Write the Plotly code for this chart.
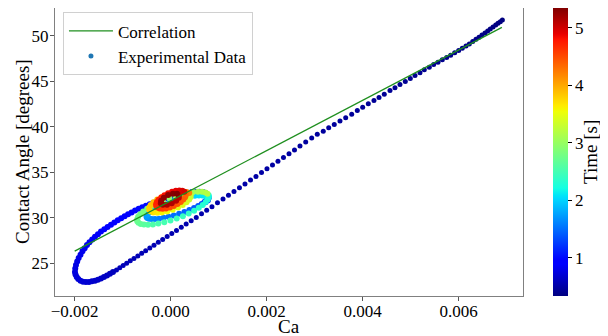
import plotly.graph_objects as go

# ---------------- data ----------------
# Fast approach branch (top-right -> bottom-left), earliest times
ca_approach = [
    0.006910, 0.006867, 0.006819, 0.006771, 0.006715, 0.006658, 0.006604, 0.006548, 0.006485, 0.006423,
    0.006360, 0.006292, 0.006221, 0.006152, 0.006075, 0.006000, 0.005917, 0.005833, 0.005750, 0.005659,
    0.005569, 0.005479, 0.005388, 0.005284, 0.005194, 0.005090, 0.004992, 0.004888, 0.004777, 0.004673,
    0.004569, 0.004450, 0.004340, 0.004235, 0.004117, 0.004000, 0.003888, 0.003771, 0.003646, 0.003527,
    0.003408, 0.003292, 0.003179, 0.003054, 0.002938, 0.002813, 0.002694, 0.002579, 0.002465, 0.002350,
    0.002235, 0.002121, 0.002006, 0.001892, 0.001777, 0.001663, 0.001548, 0.001433, 0.001319, 0.001204,
    0.001090, 0.000975, 0.000860, 0.000750, 0.000642, 0.000533, 0.000427, 0.000323, 0.000221, 0.000121,
    0.000023, -0.000073, -0.000167, -0.000258, -0.000348, -0.000435, -0.000521, -0.000604, -0.000685, -0.000765,
    -0.000842, -0.000917, -0.000990, -0.001060, -0.001129,
]
theta_approach = [
    51.75, 51.57, 51.38, 51.21, 50.99, 50.77, 50.55, 50.33, 50.11, 49.85,
    49.63, 49.38, 49.12, 48.90, 48.64, 48.39, 48.14, 47.87, 47.62, 47.37,
    47.11, 46.85, 46.56, 46.27, 45.94, 45.65, 45.32, 44.99, 44.66, 44.30,
    44.00, 43.60, 43.23, 42.91, 42.54, 42.17, 41.81, 41.40, 41.01, 40.64,
    40.27, 39.91, 39.51, 39.18, 38.77, 38.33, 37.89, 37.47, 37.06, 36.64,
    36.22, 35.81, 35.39, 34.98, 34.56, 34.15, 33.73, 33.31, 32.90, 32.48,
    32.07, 31.65, 31.23, 30.83, 30.44, 30.05, 29.68, 29.32, 28.97, 28.62,
    28.28, 27.95, 27.62, 27.31, 26.99, 26.69, 26.39, 26.10, 25.82, 25.54,
    25.28, 25.02, 24.76, 24.52, 24.28,
]
time_approach = [
    0.340, 0.343, 0.346, 0.349, 0.352, 0.355, 0.358, 0.361, 0.364, 0.367,
    0.370, 0.373, 0.376, 0.379, 0.382, 0.385, 0.388, 0.391, 0.394, 0.397,
    0.400, 0.403, 0.406, 0.409, 0.412, 0.415, 0.418, 0.421, 0.424, 0.427,
    0.430, 0.433, 0.436, 0.439, 0.442, 0.445, 0.448, 0.451, 0.454, 0.457,
    0.460, 0.463, 0.466, 0.469, 0.472, 0.475, 0.478, 0.481, 0.484, 0.487,
    0.490, 0.493, 0.496, 0.499, 0.502, 0.505, 0.508, 0.511, 0.514, 0.517,
    0.520, 0.523, 0.526, 0.529, 0.532, 0.535, 0.538, 0.541, 0.544, 0.547,
    0.550, 0.553, 0.556, 0.559, 0.562, 0.565, 0.568, 0.571, 0.574, 0.577,
    0.580, 0.583, 0.586, 0.589, 0.592,
]

# First (blue) loop: rounded bottom-left end and the upper branch
ca_loop1 = [
    -0.001202, -0.001265, -0.001327, -0.001390, -0.001452, -0.001515, -0.001577, -0.001640, -0.001702, -0.001765,
    -0.001827, -0.001879, -0.001925, -0.001958, -0.001983, -0.001994, -0.001988, -0.001973, -0.001948, -0.001917,
    -0.001879, -0.001838, -0.001792, -0.001744, -0.001692, -0.001635, -0.001577, -0.001515, -0.001452, -0.001383,
    -0.001315, -0.001244, -0.001173, -0.001102, -0.001031, -0.000960, -0.000888, -0.000815, -0.000742, -0.000667,
    -0.000592, -0.000515, -0.000438, -0.000360, -0.000283, -0.000204, -0.000125, -0.000046, 0.000033, 0.000115,
    0.000196, 0.000277, 0.000358, 0.000440, 0.000521, 0.000600, 0.000673, 0.000735, 0.000777, 0.000794,
    0.000777, 0.000725,
]
theta_loop1 = [
    24.05, 23.85, 23.66, 23.50, 23.34, 23.21, 23.10, 23.02, 22.96, 22.95,
    22.99, 23.10, 23.28, 23.50, 23.76, 24.05, 24.43, 24.81, 25.20, 25.58,
    25.95, 26.32, 26.67, 27.01, 27.32, 27.63, 27.92, 28.19, 28.49, 28.75,
    29.00, 29.25, 29.50, 29.73, 29.96, 30.18, 30.39, 30.60, 30.80, 30.99,
    31.16, 31.34, 31.50, 31.66, 31.81, 31.95, 32.09, 32.23, 32.35, 32.47,
    32.58, 32.68, 32.76, 32.83, 32.87, 32.88, 32.84, 32.71, 32.49, 32.21,
    31.94, 31.72,
]
time_loop1 = [
    0.60, 0.61, 0.62, 0.63, 0.64, 0.65, 0.66, 0.67, 0.68, 0.69,
    0.70, 0.71, 0.72, 0.73, 0.74, 0.75, 0.76, 0.77, 0.78, 0.79,
    0.80, 0.81, 0.82, 0.83, 0.84, 0.85, 0.86, 0.87, 0.88, 0.89,
    0.90, 0.91, 0.92, 0.93, 0.94, 0.95, 0.96, 0.97, 0.98, 0.99,
    1.00, 1.01, 1.02, 1.03, 1.04, 1.05, 1.06, 1.07, 1.08, 1.09,
    1.10, 1.11, 1.12, 1.13, 1.14, 1.15, 1.16, 1.17, 1.18, 1.19,
    1.20, 1.21,
]

# Second loop (light blue / cyan)
ca_loop2 = [
    0.000765, 0.000763, 0.000742, 0.000703, 0.000646, 0.000573, 0.000487, 0.000390, 0.000286, 0.000176,
    0.000065, -0.000044, -0.000147, -0.000242, -0.000326, -0.000396, -0.000450, -0.000486, -0.000503, -0.000501,
    -0.000480, -0.000441, -0.000384, -0.000311, -0.000225, -0.000128, -0.000024, 0.000086, 0.000197, 0.000306,
    0.000409, 0.000504, 0.000588, 0.000658, 0.000712, 0.000748,
]
theta_loop2 = [
    32.25, 32.11, 31.94, 31.74, 31.53, 31.31, 31.08, 30.86, 30.64, 30.44,
    30.26, 30.11, 30.00, 29.91, 29.87, 29.87, 29.90, 29.98, 30.09, 30.23,
    30.40, 30.60, 30.81, 31.03, 31.26, 31.49, 31.70, 31.90, 32.08, 32.23,
    32.34, 32.43, 32.47, 32.47, 32.44, 32.37,
]
time_loop2 = [
    1.250, 1.275, 1.300, 1.325, 1.350, 1.375, 1.400, 1.425, 1.450, 1.475,
    1.500, 1.525, 1.550, 1.575, 1.600, 1.625, 1.650, 1.675, 1.700, 1.725,
    1.750, 1.775, 1.800, 1.825, 1.850, 1.875, 1.900, 1.925, 1.950, 1.975,
    2.000, 2.025, 2.050, 2.075, 2.100, 2.125,
]

# Third loop (green)
ca_loop3 = [
    0.000792, 0.000794, 0.000774, 0.000731, 0.000668, 0.000586, 0.000488, 0.000376, 0.000254, 0.000126,
    -0.000005, -0.000133, -0.000257, -0.000371, -0.000472, -0.000557, -0.000625, -0.000671, -0.000696, -0.000698,
    -0.000678, -0.000635, -0.000572, -0.000490, -0.000392, -0.000280, -0.000158, -0.000030, 0.000101, 0.000229,
    0.000353, 0.000467, 0.000568, 0.000653, 0.000721, 0.000767,
]
theta_loop3 = [
    32.49, 32.27, 32.01, 31.73, 31.42, 31.11, 30.79, 30.48, 30.19, 29.93,
    29.70, 29.51, 29.37, 29.28, 29.24, 29.26, 29.33, 29.46, 29.64, 29.85,
    30.11, 30.39, 30.70, 31.01, 31.33, 31.64, 31.93, 32.19, 32.43, 32.61,
    32.76, 32.85, 32.88, 32.86, 32.79, 32.66,
]
time_loop3 = [
    2.200, 2.228, 2.256, 2.284, 2.312, 2.340, 2.368, 2.396, 2.424, 2.452,
    2.480, 2.508, 2.536, 2.564, 2.592, 2.620, 2.648, 2.676, 2.704, 2.732,
    2.760, 2.788, 2.816, 2.844, 2.872, 2.900, 2.928, 2.956, 2.984, 3.012,
    3.040, 3.068, 3.096, 3.124, 3.152, 3.180,
]

# Fourth loop (yellow / orange)
ca_loop4 = [
    0.000416, 0.000416, 0.000387, 0.000330, 0.000250, 0.000152, 0.000042, -0.000072, -0.000181, -0.000279,
    -0.000360, -0.000417, -0.000446, -0.000446, -0.000417, -0.000360, -0.000280, -0.000182, -0.000072, 0.000042,
    0.000151, 0.000249, 0.000330, 0.000387,
]
theta_loop4 = [
    32.55, 32.30, 32.02, 31.72, 31.42, 31.14, 30.90, 30.71, 30.59, 30.55,
    30.59, 30.71, 30.90, 31.14, 31.42, 31.72, 32.02, 32.30, 32.55, 32.73,
    32.85, 32.89, 32.85, 32.73,
]
time_loop4 = [
    3.250, 3.292, 3.334, 3.376, 3.418, 3.460, 3.502, 3.544, 3.586, 3.628,
    3.670, 3.712, 3.754, 3.796, 3.838, 3.880, 3.922, 3.964, 4.006, 4.048,
    4.090, 4.132, 4.174, 4.216,
]

# Fifth loop (red)
ca_loop5 = [
    0.000311, 0.000316, 0.000300, 0.000263, 0.000210, 0.000142, 0.000065, -0.000016, -0.000095, -0.000168,
    -0.000229, -0.000273, -0.000299, -0.000304, -0.000288, -0.000251, -0.000198, -0.000130, -0.000053, 0.000028,
    0.000107, 0.000180, 0.000241, 0.000285,
]
theta_loop5 = [
    32.71, 32.51, 32.27, 32.01, 31.75, 31.51, 31.30, 31.14, 31.03, 31.00,
    31.03, 31.13, 31.29, 31.49, 31.73, 31.99, 32.25, 32.49, 32.70, 32.86,
    32.97, 33.00, 32.97, 32.87,
]
time_loop5 = [
    4.30, 4.33, 4.36, 4.39, 4.42, 4.45, 4.48, 4.51, 4.54, 4.57,
    4.60, 4.63, 4.66, 4.69, 4.72, 4.75, 4.78, 4.81, 4.84, 4.87,
    4.90, 4.93, 4.96, 4.99,
]

# Last, smallest loop (dark red)
ca_loop6 = [
    0.000175, 0.000169, 0.000113, 0.000023, -0.000077, -0.000161, -0.000205, -0.000199, -0.000143, -0.000053,
    0.000047, 0.000131,
]
theta_loop6 = [
    32.50, 32.21, 31.88, 31.60, 31.44, 31.44, 31.60, 31.89, 32.22, 32.50,
    32.66, 32.66,
]
time_loop6 = [
    5.05, 5.08, 5.10, 5.13, 5.16, 5.18, 5.21, 5.24, 5.26, 5.29,
    5.31, 5.34,
]

# Correlation line end points
corr_ca = [-0.0020, 0.0069]
corr_theta = [26.35, 50.94]

# Ticks
x_tick_vals = [-0.002, 0.000, 0.002, 0.004, 0.006]
x_tick_text = ["\u22120.002", "0.000", "0.002", "0.004", "0.006"]
y_tick_vals = [25, 30, 35, 40, 45, 50]
cbar_tick_vals = [1, 2, 3, 4, 5]

# ---------------- styling ----------------
FONT = "Liberation Serif, Times New Roman, serif"
JET = [
    [0.000, "rgb(0,0,128)"],
    [0.110, "rgb(0,0,255)"],
    [0.125, "rgb(0,0,255)"],
    [0.340, "rgb(0,219,255)"],
    [0.350, "rgb(0,230,247)"],
    [0.375, "rgb(21,255,226)"],
    [0.640, "rgb(239,255,8)"],
    [0.650, "rgb(247,245,0)"],
    [0.660, "rgb(255,236,0)"],
    [0.890, "rgb(255,19,0)"],
    [0.910, "rgb(232,0,0)"],
    [1.000, "rgb(128,0,0)"],
]

loops_ca = ca_loop1 + ca_loop2 + ca_loop3 + ca_loop4 + ca_loop5 + ca_loop6
loops_theta = theta_loop1 + theta_loop2 + theta_loop3 + theta_loop4 + theta_loop5 + theta_loop6
loops_time = time_loop1 + time_loop2 + time_loop3 + time_loop4 + time_loop5 + time_loop6
all_time = time_approach + loops_time

fig = go.Figure()

fig.add_trace(go.Scatter(
    x=ca_approach, y=theta_approach, mode="markers", showlegend=False,
    marker=dict(size=5, color=time_approach, coloraxis="coloraxis", line=dict(width=0)),
))
fig.add_trace(go.Scatter(
    x=loops_ca, y=loops_theta, mode="markers", showlegend=False,
    marker=dict(size=6, color=loops_time, coloraxis="coloraxis", line=dict(width=0)),
))

fig.add_trace(go.Scatter(
    x=corr_ca, y=corr_theta, mode="lines", name="Correlation",
    line=dict(color="#1f8f1f", width=1.3), legendrank=1,
))

fig.add_trace(go.Scatter(
    x=[None], y=[None], mode="markers", name="Experimental Data",
    marker=dict(size=5, color="#1f77b4"), legendrank=2,
))

# the page body adds an 8px offset, so the figure is 8px smaller than the window
fig.update_layout(
    width=600, height=328,
    margin=dict(l=47, r=85, t=0, b=40, autoexpand=False),
    paper_bgcolor="white", plot_bgcolor="white",
    font=dict(family=FONT, size=17, color="black"),
    coloraxis=dict(
        colorscale=JET, cmin=min(all_time), cmax=max(all_time),
        colorbar=dict(
            x=1.0635, xanchor="left", y=0.5, yanchor="middle",
            len=1.0, lenmode="fraction", thickness=15, thicknessmode="pixels",
            outlinewidth=0, xpad=0, ypad=0,
            ticks="outside", ticklen=4, tickcolor="black", tickwidth=1,
            tickvals=cbar_tick_vals,
            tickfont=dict(family=FONT, size=17, color="black"),
        ),
    ),
    legend=dict(
        x=0.017, y=0.985, xanchor="left", yanchor="top",
        bgcolor="rgba(255,255,255,0.85)", bordercolor="#d0d0d0", borderwidth=1,
        font=dict(family=FONT, size=17, color="black"),
        tracegroupgap=0, itemwidth=44,
    ),
    xaxis=dict(
        range=[-0.00241, 0.00734], automargin=False,
        tickvals=x_tick_vals, ticktext=x_tick_text,
        ticks="outside", ticklen=4, tickcolor="#555555",
        ticklabelstandoff=-4,
        showline=True, mirror=True, linecolor="#808080", linewidth=1,
        showgrid=False, zeroline=False,
        tickfont=dict(family=FONT, size=17, color="black"),
    ),
    yaxis=dict(
        range=[21.41, 53.07], automargin=False,
        tickvals=y_tick_vals,
        ticks="outside", ticklen=4, tickcolor="#555555",
        ticklabelstandoff=-2,
        showline=True, mirror=True, linecolor="#808080", linewidth=1,
        showgrid=False, zeroline=False,
        tickfont=dict(family=FONT, size=17, color="black"),
    ),
    annotations=[
        dict(text="Ca", xref="paper", yref="paper", x=0.5, y=-0.1076,
             xanchor="center", yanchor="middle", showarrow=False,
             font=dict(family=FONT, size=19, color="black")),
        dict(text="Contact Angle [degrees]", xref="paper", yref="paper", x=-0.0705, y=0.5,
             xanchor="center", yanchor="middle", textangle=-90, showarrow=False,
             font=dict(family=FONT, size=19, color="black")),
        dict(text="Time [s]", xref="paper", yref="paper", x=1.1432, y=0.5,
             xanchor="center", yanchor="middle", textangle=-90, showarrow=False,
             font=dict(family=FONT, size=19, color="black")),
    ],
)

fig.write_html("out.html")
